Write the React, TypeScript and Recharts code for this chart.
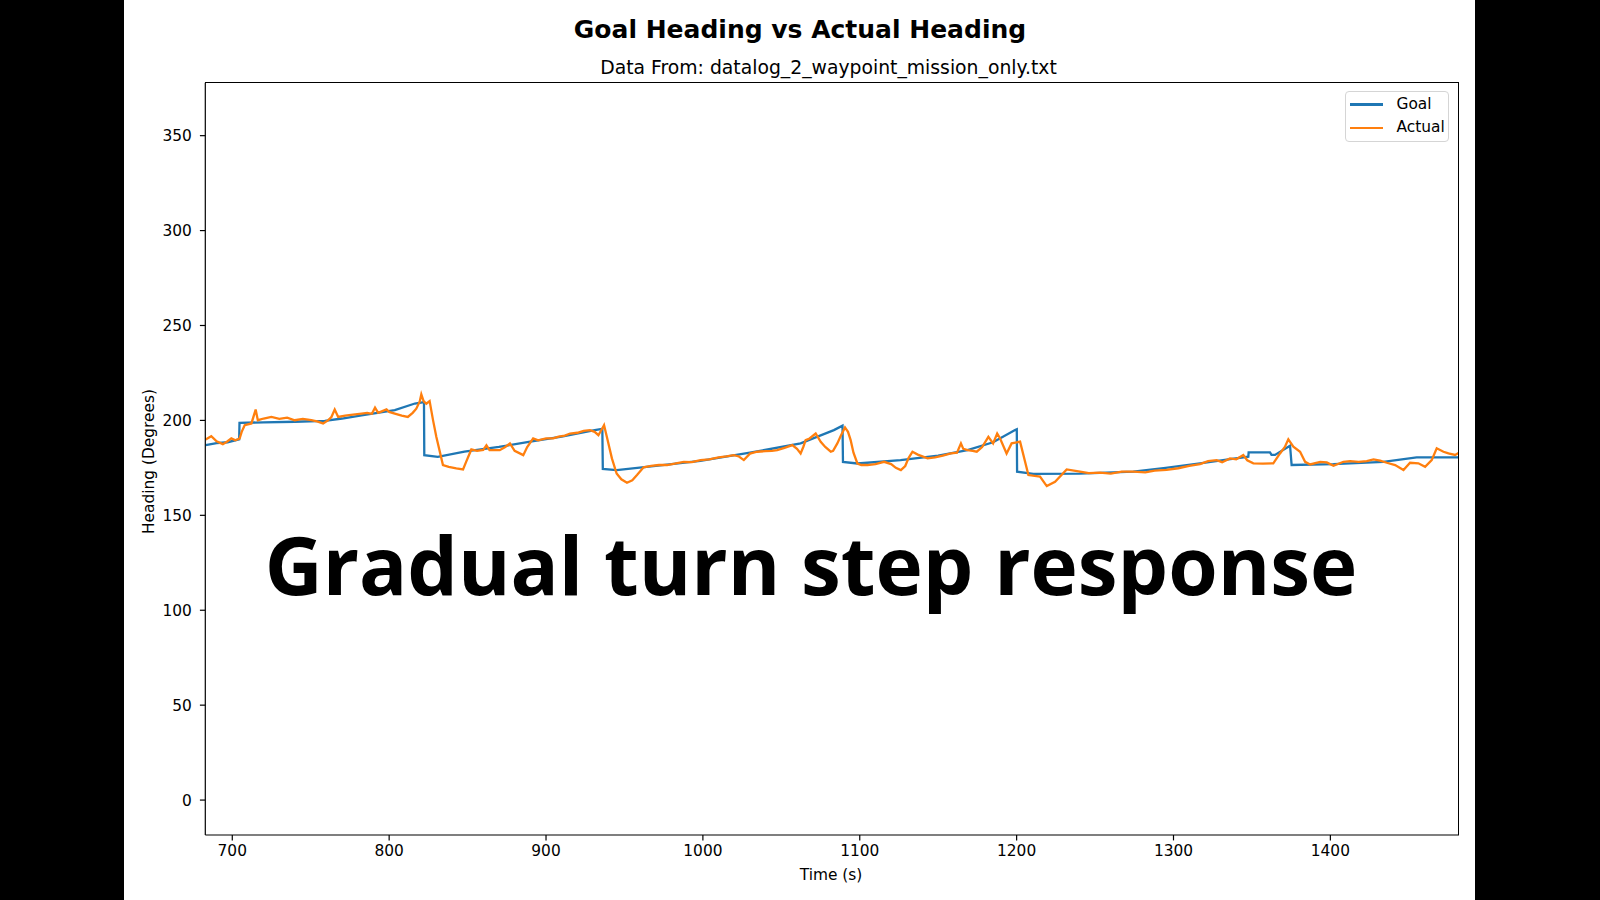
import { LineChart, Line, XAxis, YAxis, Legend } from "recharts";

// Goal heading: step-like setpoint (time s, heading deg)
const goalTime = [
  683, 690, 697, 704.4, 704.6, 720, 740, 759, 770, 782.4, 803.6, 816.4, 822.2, 822.4, 831,
  848, 870, 889, 910, 931, 935.9, 936.2, 945, 970, 998.4, 1030, 1062.3, 1083.5, 1089, 1089.3,
  1098.5, 1126, 1150, 1168.7, 1185, 1199, 1200.1, 1200.3, 1210.6, 1240, 1274.4, 1295, 1316.9,
  1335, 1347.7, 1347.9, 1361.5, 1362.5, 1364.7, 1374.3, 1375.3, 1401.9, 1433.8, 1455, 1482,
];
const goalHeading = [
  187, 188, 188.5, 190, 198.7, 199, 199.3, 199.8, 201, 202.7, 205.4, 208.9, 209.6, 181.7, 180.8,
  183.5, 186, 188.7, 191.5, 194.9, 195.5, 174.4, 173.8, 176, 178.7, 183, 187.9, 194.9, 197.2, 178.1,
  177.3, 179.1, 181.5, 184.3, 188.5, 194.9, 195.3, 173, 171.8, 172, 173, 175, 177.4,
  179.5, 180.9, 183.2, 183.2, 181.8, 181.8, 186.7, 176.5, 177, 178.2, 180.5, 180.5,
];

// Actual heading samples [time s, heading deg]
const actualSamples: [number, number][] = [
  [683, 190], [686.6, 191.7], [690, 189], [694, 187.5], [697, 189], [699.4, 190.5], [702, 189.5],
  [704.7, 190.5], [706, 194], [707.9, 197.5], [712.2, 198.4], [714.9, 205.7], [716.3, 200.1],
  [720, 201], [724.9, 201.8], [730, 200.8], [735, 201.5], [739.8, 200.1], [745, 200.8],
  [750.4, 200.1], [754, 199.5], [757.9, 198.4], [761, 200], [763.2, 201.8], [765.3, 205.7],
  [767.5, 201.8], [772, 202.5], [777, 203], [782.4, 203.6], [786, 204], [789, 203.5], [791, 206.7],
  [793, 204], [798.3, 205.8], [800, 204.5], [803.6, 203.6], [808, 202.5], [811.9, 201.8],
  [815, 204], [817.3, 206.2], [819.5, 210], [820.5, 213.7], [822, 210], [823.7, 208.8],
  [825.8, 210.2], [828, 200], [830.1, 191.3], [834.3, 176.5], [838, 175.5], [842.8, 174.7],
  [847.1, 174.2], [849, 178], [852.4, 184.7], [856, 184], [860, 184.5], [862, 186.9], [864, 184.3],
  [870.5, 184.3], [874, 186], [877, 187.9], [880, 184], [885.5, 181.7], [888, 186], [891.8, 190.5],
  [895, 189.5], [900, 190.5], [904.6, 190.5], [908, 191.5], [912, 192], [915.3, 193.1],
  [920, 193.5], [924, 194.5], [928, 194.9], [931, 194], [933.4, 192.2], [936, 196], [937, 197.5],
  [938.8, 191.3], [942, 180], [945, 172], [948, 169], [951.6, 167.2], [955, 168.5], [958, 171.2],
  [962.2, 175.3], [967, 176], [972, 176.5], [977.2, 176.5], [982, 177.2], [987.8, 178.2],
  [993, 178], [998.4, 179.1], [1004, 179.5], [1010, 180.5], [1015, 181], [1019.7, 181.7],
  [1023, 181], [1026.1, 179.1], [1030, 182.5], [1034.6, 183.5], [1040, 183.8], [1044, 184],
  [1047.4, 184.3], [1052, 185.5], [1057, 187], [1060, 185], [1062.3, 182.6], [1064, 186],
  [1065.5, 189.6], [1068, 190.5], [1071.9, 193.1], [1075.1, 188.7], [1078, 186], [1081.5, 183.5],
  [1083, 184], [1085.7, 187.9], [1088, 192], [1090.6, 196.3], [1092.5, 194], [1094.2, 189.6],
  [1096, 183], [1098.5, 177.3], [1101, 176.5], [1104.9, 176.5], [1110, 177], [1115.5, 178.2],
  [1120, 177], [1123, 175], [1126.2, 173.8], [1129, 176], [1131, 180], [1133.6, 183.5],
  [1137, 182], [1143.2, 180], [1148, 180.5], [1153, 181.5], [1158.1, 182.6], [1162, 183],
  [1164.5, 187.9], [1166, 185], [1168.7, 184.3], [1172, 184], [1174.6, 183.5], [1178, 186],
  [1182, 191.3], [1185, 187.9], [1187.6, 193.1], [1189.4, 190.6], [1193.6, 182.6], [1196.8, 187.9],
  [1202.2, 188.8], [1207.5, 171.2], [1214.9, 170.4], [1219.2, 165.4], [1224.5, 167.7],
  [1231.9, 174.2], [1240.4, 173], [1246, 172.2], [1253.1, 172.5], [1260, 172], [1267, 173],
  [1274.4, 173], [1282, 172.6], [1288, 173.6], [1295.6, 173.9], [1303, 174.8], [1310, 176],
  [1316.9, 177], [1322, 178.5], [1327.5, 179.1], [1331, 178], [1336, 180], [1340, 179.5],
  [1344.5, 181.8], [1347, 179], [1350.9, 177.4], [1357, 177.2], [1363.6, 177.4], [1367.9, 182.6],
  [1371, 186], [1373.2, 190], [1376.4, 186.2], [1380.7, 183.5], [1383.9, 178.2], [1387.1, 176.8],
  [1393.5, 178.2], [1397.7, 177.9], [1402, 176.1], [1408.3, 178.2], [1412.6, 178.6],
  [1418, 178.2], [1423.2, 178.6], [1427.5, 179.5], [1431.7, 178.8], [1436, 177.7],
  [1441.3, 176.5], [1446.6, 173.9], [1450.8, 177.7], [1456.1, 177.4], [1460.4, 175.6],
  [1464.6, 179.1], [1467.8, 185.3], [1472.1, 183.5], [1475.3, 182.6], [1479.5, 181.8],
  [1482, 183],
];

const xTicks = [700, 800, 900, 1000, 1100, 1200, 1300, 1400];
const yTicks = [0, 50, 100, 150, 200, 250, 300, 350];
const seriesOrder = ["Goal", "Actual"];

const goalData = goalTime.map((t, i) => ({ t, goal: goalHeading[i] }));
const actualData = actualSamples.map(([t, h]) => ({ t, actual: h }));

const FONT = "'DejaVu Sans', sans-serif";
const tickStyle = { fontSize: 15.4, fontFamily: FONT, fill: "#000" };

// plot box in page pixels (matplotlib axes)
const PLOT = { left: 205.3, top: 82.7, right: 1459, bottom: 835 };
const Y_AXIS_W = 60;
const X_AXIS_H = 30;

const renderLegend = (props: any) => {
  const items = [...(props.payload || [])].sort(
    (a: any, b: any) => seriesOrder.indexOf(a.value) - seriesOrder.indexOf(b.value)
  );
  return (
    <div
      style={{
        boxSizing: "border-box",
        width: 104,
        height: 51,
        border: "1px solid #d5d5d5",
        borderRadius: 4,
        background: "rgba(255,255,255,0.8)",
        padding: "1px 0 0 4px",
      }}
    >
      {items.map((entry: any) => (
        <div key={entry.value} style={{ display: "flex", alignItems: "center", height: 23.4 }}>
          <span style={{ display: "inline-block", width: 33, height: 2.3, background: entry.color }} />
          <span style={{ marginLeft: 13.5, fontSize: 15.4, fontFamily: FONT, color: "#000", lineHeight: 1 }}>
            {entry.value}
          </span>
        </div>
      ))}
    </div>
  );
};

export default function App() {
  return (
    <div style={{ position: "fixed", left: 0, top: 0, width: 1600, height: 900, background: "#000", overflow: "hidden" }}>
      <div style={{ position: "absolute", left: 124, top: 0, width: 1351, height: 900, background: "#fff" }} />
      <div style={{ position: "absolute", left: 0, top: 0 }}>
        <LineChart
          width={1600}
          height={900}
          margin={{
            top: PLOT.top,
            right: 1600 - PLOT.right,
            bottom: 900 - PLOT.bottom - X_AXIS_H,
            left: PLOT.left - Y_AXIS_W,
          }}
        >
          <XAxis
            dataKey="t"
            type="number"
            domain={[682.8, 1482]}
            allowDataOverflow
            ticks={xTicks}
            height={X_AXIS_H}
            tick={tickStyle}
            tickSize={5.4}
            tickMargin={5}
            axisLine={{ stroke: "#000", strokeWidth: 1.2 }}
            tickLine={{ stroke: "#000", strokeWidth: 1.2 }}
          />
          <YAxis
            type="number"
            domain={[-18.4, 377.9]}
            allowDataOverflow
            ticks={yTicks}
            width={Y_AXIS_W}
            tick={tickStyle}
            tickSize={5.4}
            tickMargin={8}
            axisLine={{ stroke: "#000", strokeWidth: 1.2 }}
            tickLine={{ stroke: "#000", strokeWidth: 1.2 }}
          />
          <Line
            data={goalData}
            dataKey="goal"
            name="Goal"
            type="linear"
            stroke="#1f77b4"
            strokeWidth={2.3}
            dot={false}
            activeDot={false}
            isAnimationActive={false}
          />
          <Line
            data={actualData}
            dataKey="actual"
            name="Actual"
            type="linear"
            stroke="#ff7f0e"
            strokeWidth={2.3}
            dot={false}
            activeDot={false}
            isAnimationActive={false}
          />
          <Legend
            layout="horizontal"
            align="center"
            verticalAlign="middle"
            content={renderLegend}
            wrapperStyle={{ position: "absolute", left: 1345, top: 90.7, width: 104, height: 51 }}
          />
        </LineChart>
      </div>
      {/* top and right spines of the axes box */}
      <div
        style={{
          position: "absolute",
          left: PLOT.left - 0.6,
          top: PLOT.top - 0.6,
          width: PLOT.right - PLOT.left,
          height: PLOT.bottom - PLOT.top,
          borderTop: "1.2px solid #000",
          borderRight: "1.2px solid #000",
          pointerEvents: "none",
        }}
      />
      <svg width={1600} height={900} style={{ position: "absolute", left: 0, top: 0, pointerEvents: "none" }}>
        <text x={800} y={38} textAnchor="middle" fontFamily={FONT} fontWeight="bold" fontSize={25} fill="#000">
          Goal Heading vs Actual Heading
        </text>
        <text x={828.5} y={74} textAnchor="middle" fontFamily={FONT} fontSize={18.8} fill="#000">
          Data From: datalog_2_waypoint_mission_only.txt
        </text>
        <text x={831} y={880} textAnchor="middle" fontFamily={FONT} fontSize={15.4} fill="#000">
          Time (s)
        </text>
        <text
          x={153.5}
          y={461.5}
          textAnchor="middle"
          fontFamily={FONT}
          fontSize={15.4}
          fill="#000"
          transform="rotate(-90 153.5 461.5)"
        >
          Heading (Degrees)
        </text>
        <text x={811} y={595} textAnchor="middle" fontFamily="'Open Sans', sans-serif" fontWeight="bold" fontSize={80} fill="#000">
          Gradual turn step response
        </text>
      </svg>
    </div>
  );
}
